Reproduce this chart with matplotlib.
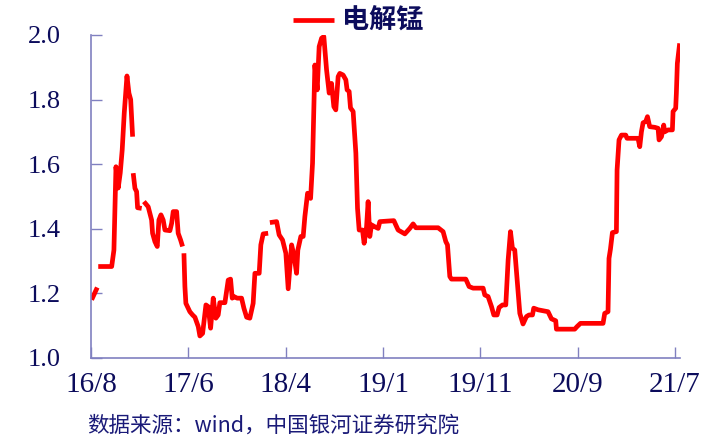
import numpy as np
import matplotlib
matplotlib.use("Agg")
import matplotlib.pyplot as plt

# months counted from 2016-08; NaN marks the gaps in the series
months = [
    0.07, 0.65, np.nan,
    0.75, 2.13, 2.36, 2.57, 2.80, 3.01, 3.21, 3.42, 3.70, 3.90, 4.08, 4.28, np.nan,
    4.34, 4.52, 4.69, 4.79, 5.21, np.nan,
    5.44, 5.88, 6.23, 6.33, 6.57, 6.81, 6.98, 7.19, 7.42, 7.60, 8.11, 8.29, 8.45,
    8.80, 8.96, 9.21, 9.41, np.nan,
    9.55, 9.65, 9.75, 10.16, 10.44, 10.68, 11.02, 11.19, 11.47, 11.81, 12.04,
    12.29, 12.56, 12.83, 13.07, 13.24, 13.76, 14.10, 14.34, 14.51, 14.68, 15.02,
    15.47, 15.71, 15.99, 16.32, 16.66, 16.84, 17.28, 17.45, 17.69, 18.20, np.nan,
    18.38, 19.07, 19.33, 19.68, 20.02, 20.26, 20.61, 20.84, 21.12, 21.25, 21.56,
    21.80, 21.97, 22.25, 22.56, 22.76, 23.00, 23.24, 23.44, 23.69, 23.92, 24.20,
    24.47, 24.71, 24.95, 25.15, 25.39, 25.56, 25.90, 26.18, 26.31, 26.52, 26.66,
    26.93, 27.21, 27.38, 27.55, 27.89, 28.06, 28.31, 28.47, 28.64, 28.82, 29.16,
    29.50, 29.67, 31.11, 31.55, 32.24, 32.75, 33.09, 33.37, 35.66, 36.17, 36.45,
    36.62, 36.86, 37.03, 38.50, 38.84, 39.25, 40.28, 40.45, 40.79, 41.14, 41.38,
    41.72, 41.92, 42.27, 42.61, 42.85, 43.09, 43.29, 43.53, 44.05, 44.38, 44.73,
    45.00, 45.35, 45.48, 45.92, 46.95, 47.30, 47.74, 47.81, 49.69, 49.93, 50.28,
    52.60, 52.77, 53.11, 53.21, 53.36, 53.56, 53.97, 54.04, 54.24, 54.49, 54.93,
    55.06, 56.19, 56.37, 56.54, 56.71, 56.98, 57.16, 57.39, 57.91, 58.25, 58.35,
    58.60, 58.83, 58.93, 59.27, 59.72, 59.79, 60.06, 60.13, 60.23, 60.47,
]
price = [
    1.180, 1.218, np.nan,
    1.283, 1.283, 1.334, 1.592, 1.526, 1.573, 1.644, 1.758, 1.873, 1.820, 1.800, 1.685, np.nan,
    1.572, 1.525, 1.515, 1.465, 1.463, np.nan,
    1.484, 1.468, 1.427, 1.386, 1.360, 1.345, 1.427, 1.443, 1.427, 1.396, 1.394, 1.417, 1.453,
    1.453, 1.386, 1.365, 1.345, np.nan,
    1.324, 1.221, 1.169, 1.143, 1.133, 1.126, 1.097, 1.068, 1.076, 1.164, 1.159,
    1.092, 1.185, 1.123, 1.133, 1.171, 1.171, 1.241, 1.244, 1.185, 1.190, 1.185,
    1.185, 1.154, 1.126, 1.123, 1.169, 1.262, 1.262, 1.350, 1.384, 1.386, np.nan,
    1.419, 1.422, 1.381, 1.365, 1.324, 1.214, 1.350, 1.319, 1.262, 1.334, 1.376,
    1.376, 1.437, 1.510, 1.494, 1.603, 1.907, 1.830, 1.964, 1.990, 1.995, 1.892,
    1.820, 1.850, 1.778, 1.768, 1.871, 1.881, 1.876, 1.861, 1.830, 1.825, 1.774,
    1.763, 1.634, 1.463, 1.396, 1.396, 1.355, 1.406, 1.484, 1.376, 1.412, 1.406,
    1.401, 1.422, 1.425, 1.396, 1.384, 1.401, 1.415, 1.403, 1.403, 1.391, 1.360,
    1.350, 1.252, 1.244, 1.244, 1.221, 1.216, 1.216, 1.195, 1.190, 1.159, 1.133,
    1.133, 1.156, 1.164, 1.164, 1.303, 1.391, 1.340, 1.334, 1.138, 1.105, 1.128,
    1.133, 1.133, 1.154, 1.149, 1.143, 1.121, 1.115, 1.089, 1.089, 1.097, 1.107,
    1.107, 1.138, 1.143, 1.308, 1.337, 1.388, 1.391, 1.582, 1.675, 1.690, 1.690,
    1.680, 1.680, 1.654, 1.700, 1.728, 1.732, 1.747, 1.716, 1.714, 1.711, 1.675,
    1.685, 1.721, 1.700, 1.706, 1.706, 1.763, 1.773, 1.820, 1.912, 1.974,
]
tick_months = [0, 10, 20, 30, 40, 50, 60]
tick_labels = ["16/8", "17/6", "18/4", "19/1", "19/11", "20/9", "21/7"]
y_ticks = [1.0, 1.2, 1.4, 1.6, 1.8, 2.0]

navy = "#0c0c5c"
axis_col = "#8080c0"

fig = plt.figure(figsize=(7.05, 4.37), dpi=100)
ax = fig.add_axes([0.129, 0.181, 0.8355, 0.739])
ax.plot(months, price, color="#ff0000", lw=3.4, solid_capstyle="butt",
        label="电解锰")

ax.set_xlim(0, 60.5)
ax.set_ylim(1.0, 2.0)
ax.set_xticks(tick_months)
ax.set_xticklabels(tick_labels, fontfamily="Liberation Serif", fontsize=21, color=navy)
ax.set_yticks(y_ticks)
ax.set_yticklabels(["%.1f" % v for v in y_ticks], fontfamily="Liberation Serif",
                   fontsize=19, color=navy)
ax.tick_params(direction="in", length=8, width=1, color=axis_col)
ax.tick_params(axis="x", pad=10)
ax.tick_params(axis="y", pad=22)
for s in ["top", "right"]:
    ax.spines[s].set_visible(False)
for s in ["left", "bottom"]:
    ax.spines[s].set_color(axis_col)
    ax.spines[s].set_linewidth(1.2)

leg = fig.legend(loc="center left", bbox_to_anchor=(293 / 705, 1 - 21 / 437),
                 frameon=False, handlelength=1.5, handletextpad=0.3, borderpad=0,
                 borderaxespad=0,
                 prop={"family": ["Noto Sans CJK SC", "DejaVu Sans"], "size": 19.5,
                       "weight": "bold"})
for t in leg.get_texts():
    t.set_color(navy)

fig.text(0.124, 0.012, "数据来源：wind，中国银河证券研究院",
         fontfamily=["Noto Sans CJK SC", "DejaVu Sans"], fontsize=15.5,
         color="#1a1a78")

fig.savefig("out.png", dpi=100)
